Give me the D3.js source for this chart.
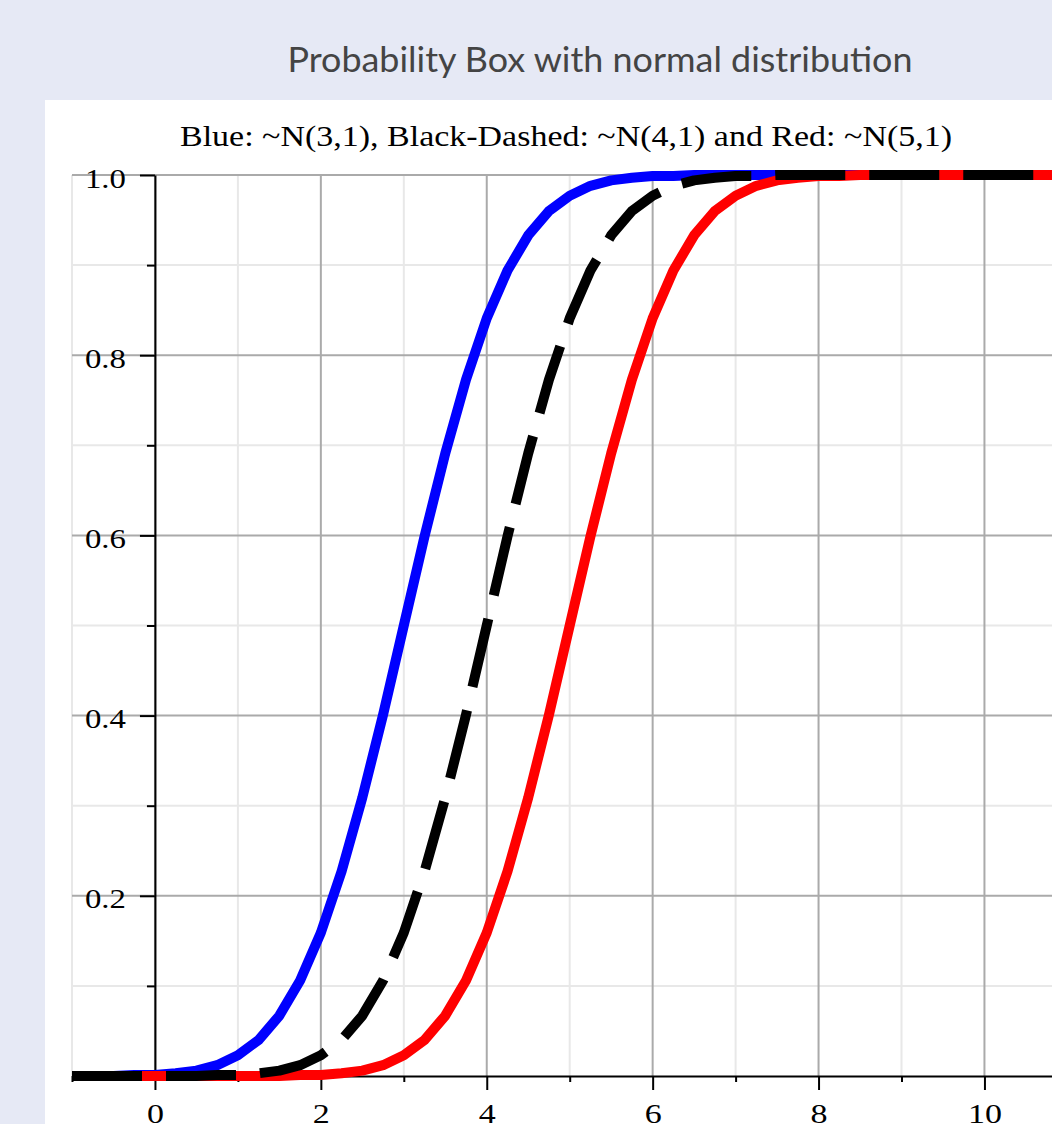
<!DOCTYPE html>
<html>
<head>
<meta charset="utf-8">
<script src="https://cdn.jsdelivr.net/npm/d3@7"></script>
<style>
  body { margin: 0; background: #e6e9f5; }
  svg { display: block; }
</style>
</head>
<body>
<svg id="chart"></svg>
<script>
var width = 1052;
var height = 1124;

// x grid of the sampled curves
var xValues = [-1, -0.75, -0.5, -0.25, 0, 0.25, 0.5, 0.75, 1, 1.25, 1.5, 1.75,
	2, 2.25, 2.5, 2.75, 3, 3.25, 3.5, 3.75, 4, 4.25, 4.5, 4.75,
	5, 5.25, 5.5, 5.75, 6, 6.25, 6.5, 6.75, 7, 7.25, 7.5, 7.75,
	8, 8.25, 8.5, 8.75, 9, 9.25, 9.5, 9.75, 10, 10.25, 10.5, 10.75,
	11, 11.25, 11.5, 11.75, 12];

// N(3,1)
var blueValues = [0, 0, 0, 0.001, 0.001, 0.003, 0.006, 0.012, 0.023, 0.040, 0.067, 0.106,
	0.159, 0.227, 0.309, 0.401, 0.500, 0.599, 0.691, 0.773, 0.841, 0.894, 0.933, 0.960,
	0.977, 0.988, 0.994, 0.997, 0.999, 0.999, 1, 1, 1, 1, 1, 1,
	1, 1, 1, 1, 1, 1, 1, 1, 1, 1, 1, 1,
	1, 1, 1, 1, 1];
// N(4,1)
var blackValues = [0, 0, 0, 0, 0, 0, 0, 0.001, 0.001, 0.003, 0.006, 0.012,
	0.023, 0.040, 0.067, 0.106, 0.159, 0.227, 0.309, 0.401, 0.500, 0.599, 0.691, 0.773,
	0.841, 0.894, 0.933, 0.960, 0.977, 0.988, 0.994, 0.997, 0.999, 0.999, 1, 1,
	1, 1, 1, 1, 1, 1, 1, 1, 1, 1, 1, 1,
	1, 1, 1, 1, 1];
// N(5,1)
var redValues = [0, 0, 0, 0, 0, 0, 0, 0, 0, 0, 0, 0.001,
	0.001, 0.003, 0.006, 0.012, 0.023, 0.040, 0.067, 0.106, 0.159, 0.227, 0.309, 0.401,
	0.500, 0.599, 0.691, 0.773, 0.841, 0.894, 0.933, 0.960, 0.977, 0.988, 0.994, 0.997,
	0.999, 0.999, 1, 1, 1, 1, 1, 1, 1, 1, 1, 1,
	1, 1, 1, 1, 1];

var xMajorTicks = [0, 2, 4, 6, 8, 10, 12];
var xMinorTicks = [-1, 1, 3, 5, 7, 9, 11];
var yMajorTicks = [0.2, 0.4, 0.6, 0.8, 1.0];
var yMinorTicks = [0.1, 0.3, 0.5, 0.7, 0.9];

var svg = d3.select('#chart')
	.attr('width', width)
	.attr('height', height);

var x = d3.scaleLinear().domain([-1, 12]).range([72, 72 + 13 * 82.95]);
var y = d3.scaleLinear().domain([0, 1]).range([1076, 175]);

// title
svg.append('text')
	.attr('x', 600)
	.attr('y', 72)
	.attr('text-anchor', 'middle')
	.attr('font-family', 'Lato, sans-serif')
	.attr('font-size', 34)
	.attr('fill', '#444')
	.attr('textLength', 625)
	.attr('lengthAdjust', 'spacingAndGlyphs')
	.text('Probability Box with normal distribution');

// white panel
svg.append('rect')
	.attr('x', 45)
	.attr('y', 100)
	.attr('width', 1200)
	.attr('height', 1200)
	.attr('fill', '#fff');

svg.append('text')
	.attr('x', 566)
	.attr('y', 146)
	.attr('text-anchor', 'middle')
	.attr('font-family', '"Liberation Serif", serif')
	.attr('font-size', 29)
	.attr('fill', '#000')
	.attr('textLength', 772)
	.attr('lengthAdjust', 'spacingAndGlyphs')
	.text('Blue: ~N(3,1), Black-Dashed: ~N(4,1) and Red: ~N(5,1)');

// grid
var grid = svg.append('g').classed('grid', true);
grid.selectAll('line.vminor')
	.data(xMinorTicks)
	.enter().append('line')
	.attr('x1', function(d) { return x(d); })
	.attr('x2', function(d) { return x(d); })
	.attr('y1', y(1)).attr('y2', y(0))
	.attr('stroke', '#e8e8e8').attr('stroke-width', 2);
grid.selectAll('line.hminor')
	.data(yMinorTicks)
	.enter().append('line')
	.attr('x1', x(-1)).attr('x2', x(12))
	.attr('y1', function(d) { return y(d); })
	.attr('y2', function(d) { return y(d); })
	.attr('stroke', '#e8e8e8').attr('stroke-width', 2);
grid.selectAll('line.vmajor')
	.data(xMajorTicks)
	.enter().append('line')
	.attr('x1', function(d) { return x(d); })
	.attr('x2', function(d) { return x(d); })
	.attr('y1', y(1)).attr('y2', y(0))
	.attr('stroke', '#aaa').attr('stroke-width', 2);
grid.selectAll('line.hmajor')
	.data(yMajorTicks)
	.enter().append('line')
	.attr('x1', x(-1)).attr('x2', x(12))
	.attr('y1', function(d) { return y(d); })
	.attr('y2', function(d) { return y(d); })
	.attr('stroke', '#aaa').attr('stroke-width', 2);

// axes
var xAxis = svg.append('g')
	.attr('transform', 'translate(0,' + y(0) + ')')
	.call(d3.axisBottom(x).tickValues(xMajorTicks).tickSize(14).tickSizeOuter(0).tickFormat(d3.format('d')));
var xMinor = svg.append('g')
	.attr('transform', 'translate(0,' + y(0) + ')')
	.call(d3.axisBottom(x).tickValues(xMinorTicks).tickSize(6).tickSizeOuter(0).tickFormat(''));
xMinor.select('.domain').remove();

var yAxis = svg.append('g')
	.attr('transform', 'translate(' + x(0) + ',0)')
	.call(d3.axisLeft(y).tickValues(yMajorTicks).tickSize(15).tickSizeOuter(0).tickFormat(d3.format('.1f')));
var yMinor = svg.append('g')
	.attr('transform', 'translate(' + x(0) + ',0)')
	.call(d3.axisLeft(y).tickValues(yMinorTicks).tickSize(8).tickSizeOuter(0).tickFormat(''));
yMinor.select('.domain').remove();

svg.selectAll('.domain, .tick line')
	.attr('stroke', '#000')
	.attr('stroke-width', 2);
xAxis.selectAll('.tick text')
	.attr('font-family', '"Liberation Serif", serif')
	.attr('font-size', 28)
	.attr('fill', '#000')
	.attr('dy', null)
	.attr('y', 47)
	.attr('textLength', function(d) { return String(d).length * 17; })
	.attr('lengthAdjust', 'spacingAndGlyphs');
yAxis.selectAll('.tick text')
	.attr('font-family', '"Liberation Serif", serif')
	.attr('font-size', 28)
	.attr('fill', '#000')
	.attr('x', -29)
	.attr('dy', 12)
	.attr('textLength', 41)
	.attr('lengthAdjust', 'spacingAndGlyphs');

// curves
var line = d3.line()
	.x(function(d) { return x(d[0]); })
	.y(function(d) { return y(d[1]); });

var curves = [
	{ values: blueValues, color: '#0000ff', dash: null },
	{ values: redValues, color: '#ff0000', dash: null },
	{ values: blackValues, color: '#000000', dash: '70,24' }
];

svg.append('g')
	.selectAll('path')
	.data(curves)
	.enter().append('path')
	.attr('d', function(c) { return line(xValues.map(function(v, i) { return [v, c.values[i]]; })); })
	.attr('fill', 'none')
	.attr('stroke', function(c) { return c.color; })
	.attr('stroke-width', 10)
	.attr('stroke-linejoin', 'round')
	.attr('stroke-dasharray', function(c) { return c.dash; });
</script>
</body>
</html>
